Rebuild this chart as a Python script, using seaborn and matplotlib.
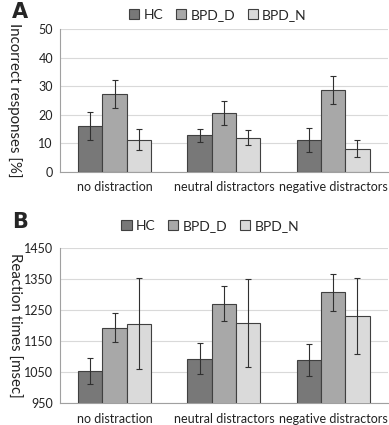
import numpy as np
import pandas as pd
import matplotlib
matplotlib.use("Agg")
import matplotlib.pyplot as plt
import seaborn as sns

conditions = ["no distraction", "neutral distractors", "negative distractors"]
groups = ["HC", "BPD_D", "BPD_N"]
colors = ["#787878", "#a8a8a8", "#dadada"]

# panel A: incorrect responses [%]
err_hc = [16.0, 12.8, 11.1]
err_bpd_d = [27.3, 20.6, 28.6]
err_bpd_n = [11.3, 12.0, 8.1]
err_hc_sd = [4.8, 2.2, 4.1]
err_bpd_d_sd = [4.9, 4.3, 5.0]
err_bpd_n_sd = [3.6, 2.6, 3.1]

# panel B: reaction times [msec]
rt_hc = [1054, 1094, 1090]
rt_bpd_d = [1194, 1271, 1308]
rt_bpd_n = [1207, 1209, 1232]
rt_hc_sd = [43, 50, 51]
rt_bpd_d_sd = [46, 56, 60]
rt_bpd_n_sd = [146, 141, 123]

sns.set_style("white")
plt.rcParams["font.family"] = ["Lato", "DejaVu Sans"]

fig = plt.figure(figsize=(3.89, 4.25), dpi=100)
ax_a = fig.add_axes([0.154, 0.596, 0.843, 0.335])
ax_b = fig.add_axes([0.154, 0.051, 0.843, 0.365])


def make_df(vals, sds):
    rows = []
    for g, v, s in zip(groups, vals, sds):
        for c, vv, ss in zip(conditions, v, s):
            rows.append({"condition": c, "group": g, "value": vv, "sd": ss})
    return pd.DataFrame(rows)


def draw(ax, df, ylim, yticks, ylabel, letter, letter_y, leg_x, leg_y):
    sns.barplot(data=df, x="condition", y="value", hue="group", order=conditions,
                hue_order=groups, palette=colors, width=0.667, errorbar=None,
                edgecolor="#404040", linewidth=0.8, saturation=1, ax=ax, zorder=3)
    # error bars placed on the bar patches
    for cont, g in zip(ax.containers, groups):
        sub = df[df["group"] == g].set_index("condition").loc[conditions]
        xs = [p.get_x() + p.get_width() / 2 for p in cont.patches]
        ax.errorbar(xs, sub["value"], yerr=sub["sd"], fmt="none", ecolor="#303030",
                    elinewidth=0.8, capsize=2, capthick=0.8, zorder=4)
    ax.set_ylim(*ylim)
    ax.set_xlim(-0.5, 2.5)
    ax.set_yticks(yticks)
    ax.yaxis.grid(True, color="#d9d9d9", linewidth=0.8, zorder=0)
    ax.set_axisbelow(True)
    ax.set_xlabel("")
    ax.set_ylabel(ylabel, rotation=-90, fontsize=10.8, color="#222222",
                  va="center", ha="center")
    ax.yaxis.set_label_coords(-0.14, 0.5)
    ax.set_xticks([0, 1, 2])
    ax.set_xticklabels(conditions, fontsize=9, color="#222222")
    ax.tick_params(axis="x", length=0, pad=7)
    ax.set_xticks([0.5, 1.5], minor=True)
    ax.tick_params(axis="x", which="minor", length=4, color="#a0a0a0", width=0.8)
    ax.tick_params(axis="y", length=3, color="#a0a0a0", width=0.8, labelsize=9,
                   labelcolor="#222222", pad=2)
    for s in ["top", "right"]:
        ax.spines[s].set_visible(False)
    for s in ["left", "bottom"]:
        ax.spines[s].set_color("#a0a0a0")
        ax.spines[s].set_linewidth(0.8)
    ax.legend(loc="center", bbox_to_anchor=(leg_x, leg_y), bbox_transform=fig.transFigure,
              ncol=3, frameon=False, fontsize=10, handlelength=0.75, handleheight=0.75,
              handletextpad=0.3, columnspacing=0.9, borderaxespad=0)
    fig.text(0.03, letter_y, letter, fontsize=15, fontweight="bold",
             family="DejaVu Sans", ha="left", va="center")


draw(ax_a, make_df([err_hc, err_bpd_d, err_bpd_n], [err_hc_sd, err_bpd_d_sd, err_bpd_n_sd]),
     (0, 50), [0, 10, 20, 30, 40, 50], "Incorrect responses [%]", "A", 0.971, 0.56, 0.965)
draw(ax_b, make_df([rt_hc, rt_bpd_d, rt_bpd_n], [rt_hc_sd, rt_bpd_d_sd, rt_bpd_n_sd]),
     (950, 1450), [950, 1050, 1150, 1250, 1350, 1450], "Reaction times [msec]", "B",
     0.477, 0.54, 0.468)

fig.savefig("out.png", dpi=100)
